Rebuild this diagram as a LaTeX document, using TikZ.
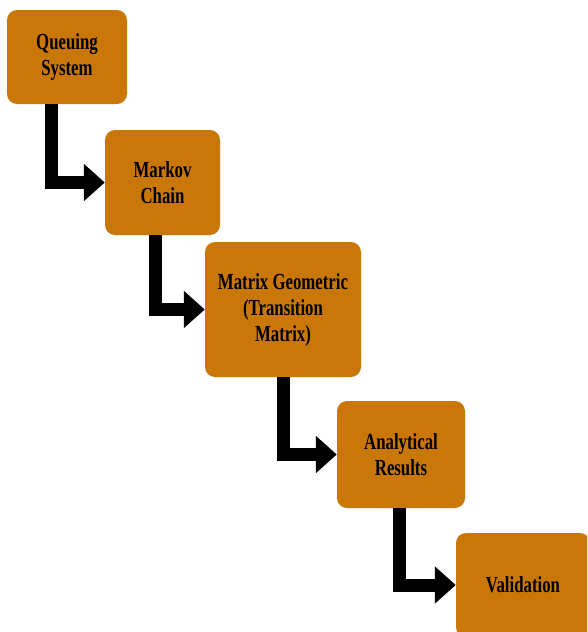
\documentclass[tikz,border=0pt]{standalone}
\usepackage{fontspec}
\setmainfont{Liberation Serif}[FakeStretch=0.73]
\usetikzlibrary{arrows.meta}

\definecolor{boxorange}{RGB}{201,119,9}

\tikzset{
    stage/.style={fill=boxorange, rounded corners=10pt, align=center, inner sep=0pt,
        font=\bfseries\fontsize{23}{26}\selectfont},
    flow/.style={line width=13pt, -{Triangle[width=36pt,length=21pt]}},
}

\begin{document}
\begin{tikzpicture}[x=1pt,y=-1pt]
    \useasboundingbox (0,0) rectangle (587,632);
    \clip (0,0) rectangle (587,632);

    \node[stage, minimum width=120pt, minimum height=94pt] (queue) at (67,57) {Queuing\\System};
    \node[stage, minimum width=115pt, minimum height=105pt] (markov) at (162.5,182.5) {Markov\\Chain};
    \node[stage, minimum width=156pt, minimum height=135pt] (matrix) at (283,309.5) {Matrix Geometric\\(Transition\\Matrix)};
    \node[stage, minimum width=128pt, minimum height=107pt] (results) at (401,454.5) {Analytical\\Results};
    \node[stage, minimum width=134pt, minimum height=104pt] (valid) at (523,585) {Validation};

    %\draw[step=10pt,gray,very thin] (0,0) grid (587,632);
    \draw[flow] ([xshift=-16pt]queue.south) |- (markov.west);
    \draw[flow] ([xshift=-7.5pt]markov.south) |- (matrix.west);
    \draw[flow] (matrix.south) |- (results.west);
    \draw[flow] ([xshift=-1.5pt]results.south) |- (valid.west);

\end{tikzpicture}
\end{document}
